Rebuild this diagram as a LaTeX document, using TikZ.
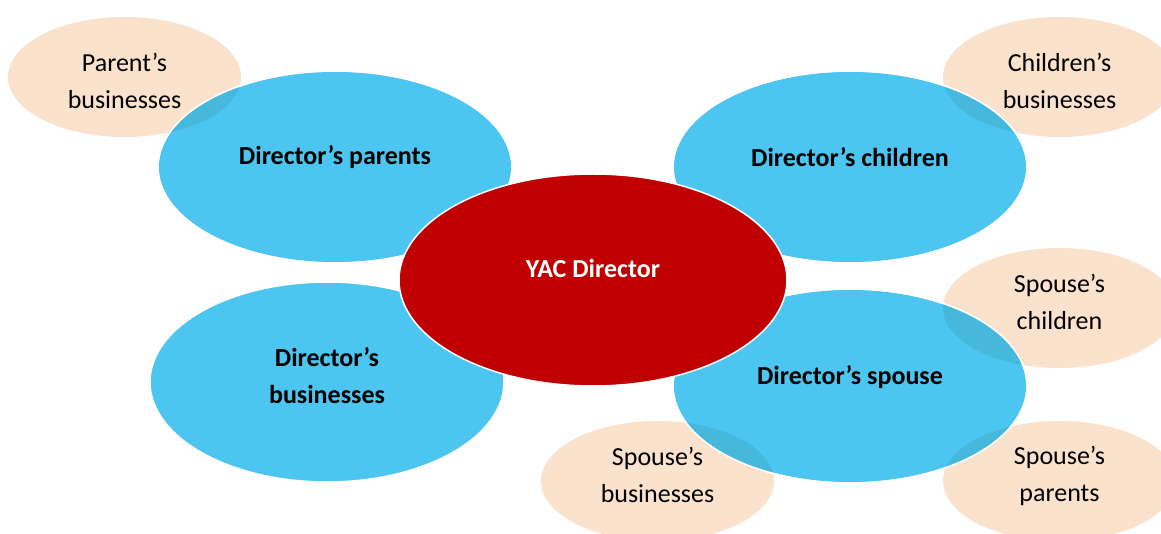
\documentclass[tikz,border=0pt]{standalone}
\usepackage{fontspec}
\setmainfont{Carlito}
\usetikzlibrary{shapes.geometric}
\definecolor{skyblue}{RGB}{76,198,240}
\definecolor{darkred}{RGB}{192,0,0}
\definecolor{peach}{RGB}{251,226,205}
\definecolor{overlapblue}{RGB}{70,184,220}

\begin{document}
\begin{tikzpicture}[x=1pt,y=-1pt,
  relative/.style={ellipse, fill=skyblue, draw=white, line width=1.5pt,
    minimum width=354pt, minimum height=192pt, inner sep=0pt},
  relativetext/.style={font=\bfseries\fontsize{26}{37}\selectfont, align=center, text=black},
  business/.style={ellipse, fill=peach, minimum width=233pt, minimum height=120pt,
    inner sep=0pt},
  businesstext/.style={font=\fontsize{26}{37}\selectfont, align=center, text=black},
  director/.style={ellipse, fill=darkred, draw=white, line width=1.5pt,
    minimum width=388pt, minimum height=212pt, inner sep=0pt}]
  \useasboundingbox (0,0) rectangle (1161,534);

  % outer ring of related businesses and family
  \node[business, label={[businesstext, yshift=-4pt]center:Parent’s\\businesses}] (pb) at (124.5,77) {};
  \node[business, label={[businesstext, yshift=-4pt]center:Children’s\\businesses}] (cb) at (1059.5,77) {};
  \node[business, label={[businesstext, yshift=6pt]center:Spouse’s\\children}] (sc) at (1059.5,308) {};
  \node[business, label={[businesstext, yshift=6pt]center:Spouse’s\\businesses}] (sb) at (657.5,481) {};
  \node[business, label={[businesstext, yshift=5pt]center:Spouse’s\\parents}] (sp) at (1059.5,481) {};

  % close relatives of the director
  \node[relative, label={[relativetext, yshift=10pt]center:Director’s parents}] (dp) at (335,167) {};
  \node[relative, label={[relativetext, yshift=10pt]center:Director’s children}] (dc) at (850,167) {};
  \node[relative, minimum height=200pt, label={[relativetext, yshift=6.5pt]center:Director’s\\businesses}] (db) at (327,382) {};
  \node[relative, minimum height=194pt, label={[relativetext, yshift=9pt]center:Director’s spouse}] (ds) at (850,386) {};

  % darker areas where a business ellipse lies over a relative
  \begin{scope}
    \clip (pb.center) ellipse [x radius=116.5, y radius=60];
    \fill[overlapblue] (dp.center) ellipse [x radius=177, y radius=96];
  \end{scope}
  \begin{scope}
    \clip (cb.center) ellipse [x radius=116.5, y radius=60];
    \fill[overlapblue] (dc.center) ellipse [x radius=177, y radius=96];
  \end{scope}
  \foreach \b in {sc,sb,sp}{
    \begin{scope}
      \clip (\b.center) ellipse [x radius=116.5, y radius=60];
      \fill[overlapblue] (ds.center) ellipse [x radius=177, y radius=97];
    \end{scope}
  }
  \draw[white, line width=1.5pt] (dp.center) ellipse [x radius=177, y radius=96];
  \draw[white, line width=1.5pt] (dc.center) ellipse [x radius=177, y radius=96];
  \draw[white, line width=1.5pt] (ds.center) ellipse [x radius=177, y radius=97];

  % the director in the middle
  \node[director, label={[font=\bfseries\fontsize{26}{37}\selectfont, text=white, yshift=12pt]center:YAC Director}] (yac) at (593,280) {};
\end{tikzpicture}
\end{document}
